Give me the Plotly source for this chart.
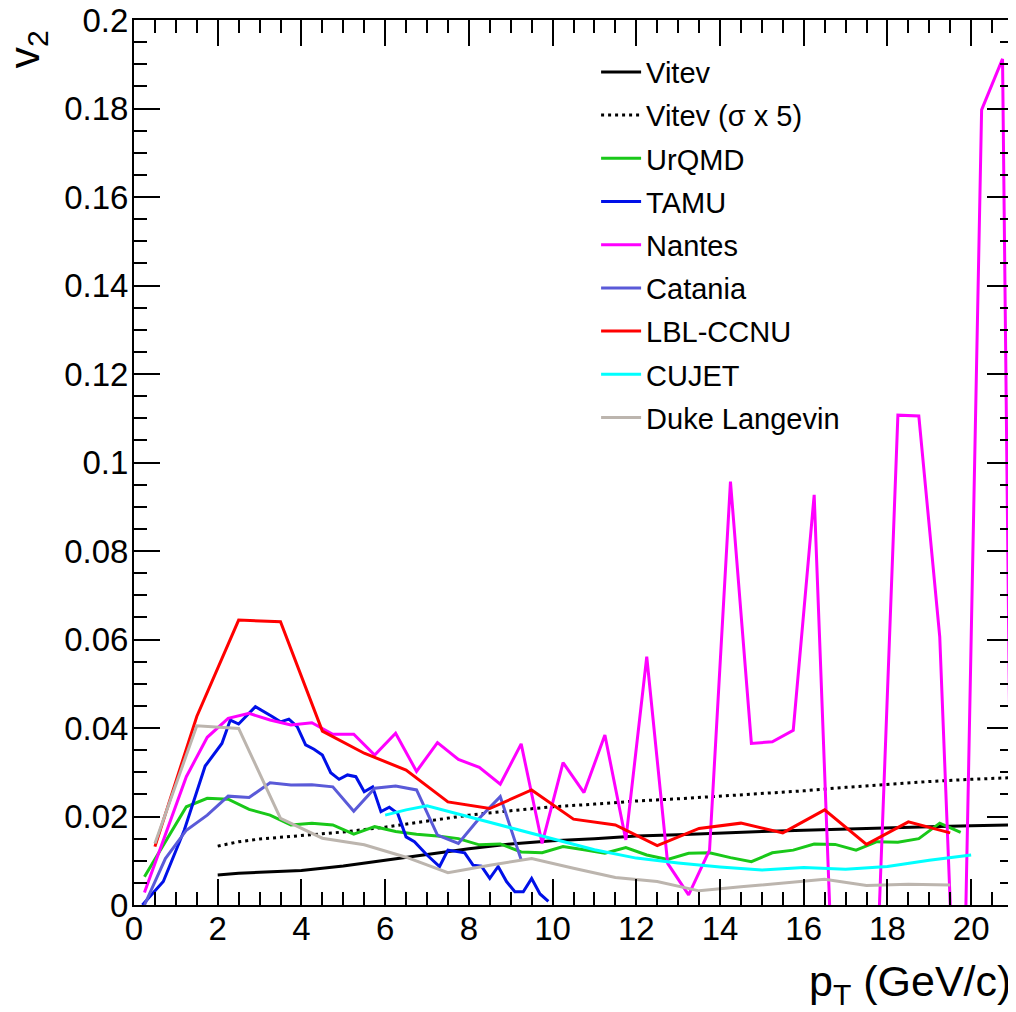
import plotly.graph_objects as go

# ---------------- data ----------------
vitev_x = [2, 2.5, 3, 4, 5, 6, 7, 8, 9, 10, 11, 12, 13, 14, 15, 16, 17, 18, 19, 20, 21]
vitev_y = [0.0068, 0.0072, 0.0074, 0.0078, 0.0088, 0.0101, 0.0115, 0.0127, 0.0138, 0.0145,
           0.0150, 0.0156, 0.0159, 0.0163, 0.0166, 0.0169, 0.0172, 0.0175, 0.0177, 0.0179, 0.0181]

vitev5_x = [2, 2.5, 3, 4, 5, 6, 7, 8, 9, 10, 11, 12, 13, 14, 15, 16, 17, 18, 19, 20, 21]
vitev5_y = [0.0133, 0.0143, 0.0149, 0.0157, 0.0165, 0.0176, 0.0190, 0.0203, 0.0213, 0.0222,
            0.0228, 0.0235, 0.0240, 0.0246, 0.0252, 0.0258, 0.0266, 0.0273, 0.0279, 0.0284, 0.0288]

urqmd_x = [0.25, 0.75, 1.25, 1.75, 2.25, 2.75, 3.25, 3.75, 4.25, 4.75, 5.25, 5.75, 6.25, 6.75,
           7.25, 7.75, 8.25, 8.75, 9.25, 9.75, 10.25, 10.75, 11.25, 11.75, 12.25, 12.75, 13.25,
           13.75, 14.25, 14.75, 15.25, 15.75, 16.25, 16.75, 17.25, 17.75, 18.25, 18.75, 19.25, 19.75]
urqmd_y = [0.0064, 0.0143, 0.0222, 0.0241, 0.0239, 0.0216, 0.0203, 0.0181, 0.0185, 0.0181,
           0.0160, 0.0177, 0.0166, 0.0160, 0.0156, 0.0150, 0.0136, 0.0138, 0.0120, 0.0118,
           0.0132, 0.0125, 0.0117, 0.0130, 0.0113, 0.0103, 0.0117, 0.0118, 0.0107, 0.0098,
           0.0118, 0.0124, 0.0138, 0.0137, 0.0124, 0.0143, 0.0142, 0.0150, 0.0185, 0.0164]

tamu_x = [0.2, 0.7, 1.2, 1.7, 2.1, 2.3, 2.5, 2.9, 3.3, 3.5, 3.7, 3.9, 4.1, 4.3, 4.5, 4.7, 4.9,
          5.1, 5.3, 5.5, 5.7, 5.9, 6.1, 6.3, 6.5, 6.7, 7.0, 7.3, 7.5, 7.9, 8.1, 8.3, 8.5, 8.7,
          8.9, 9.1, 9.3, 9.5, 9.7, 9.9]
tamu_y = [0.0000, 0.0053, 0.0169, 0.0314, 0.0365, 0.0418, 0.0409, 0.0448, 0.0426, 0.0414,
          0.0420, 0.0403, 0.0362, 0.0352, 0.0339, 0.0299, 0.0284, 0.0294, 0.0290, 0.0256,
          0.0267, 0.0211, 0.0221, 0.0207, 0.0154, 0.0143, 0.0113, 0.0087, 0.0124, 0.0118,
          0.0090, 0.0088, 0.0060, 0.0087, 0.0053, 0.0030, 0.0030, 0.0060, 0.0025, 0.0008]

nantes_x = [0.25, 0.75, 1.25, 1.75, 2.25, 2.75, 3.25, 3.75, 4.25, 4.75, 5.25, 5.75, 6.25, 6.75,
            7.25, 7.75, 8.25, 8.75, 9.25, 9.75, 10.25, 10.75, 11.25, 11.75, 12.25, 12.75, 13.25,
            13.75, 14.25, 14.75, 15.25, 15.75, 16.25, 16.75, 17.25, 17.75, 18.25, 18.75, 19.25,
            19.75, 20.25, 20.75, 21.25]
nantes_y = [0.0028, 0.0160, 0.0290, 0.0379, 0.0422, 0.0433, 0.0418, 0.0407, 0.0412, 0.0386,
            0.0386, 0.0339, 0.0388, 0.0302, 0.0367, 0.0329, 0.0311, 0.0273, 0.0364, 0.0139,
            0.0322, 0.0254, 0.0384, 0.0147, 0.0561, 0.0094, 0.0023, 0.0124, 0.0957, 0.0365,
            0.0369, 0.0395, 0.0927, -0.0330, -0.0600, -0.0150, 0.1107, 0.1105, 0.0606,
            -0.0600, 0.1797, 0.1912, -0.2500]

catania_x = [0.25, 0.75, 1.25, 1.75, 2.25, 2.75, 3.25, 3.75, 4.25, 4.75, 5.25, 5.75, 6.25,
             6.75, 7.25, 7.75, 8.25, 8.75, 9.25]
catania_y = [0.0000, 0.0105, 0.0169, 0.0203, 0.0246, 0.0243, 0.0276, 0.0271, 0.0272, 0.0267,
             0.0212, 0.0264, 0.0269, 0.0260, 0.0158, 0.0139, 0.0196, 0.0245, 0.0102]

lbl_x = [0.5, 1.5, 2.5, 3.5, 4.5, 5.5, 6.5, 7.5, 8.5, 9.5, 10.5, 11.5, 12.5, 13.5, 14.5, 15.5,
         16.5, 17.5, 18.5, 19.5]
lbl_y = [0.0132, 0.0426, 0.0644, 0.0640, 0.0393, 0.0343, 0.0305, 0.0233, 0.0218, 0.0260,
         0.0194, 0.0181, 0.0134, 0.0173, 0.0185, 0.0163, 0.0215, 0.0137, 0.0188, 0.0163]

cujet_x = [6, 6.5, 7, 8, 9, 10, 11, 12, 13, 14, 15, 16, 17, 18, 19, 20]
cujet_y = [0.0203, 0.0215, 0.0224, 0.0199, 0.0175, 0.0150, 0.0125, 0.0106, 0.0095, 0.0086,
           0.0079, 0.0085, 0.0081, 0.0087, 0.0101, 0.0113]

duke_x = [0.5, 1.5, 2.5, 3.5, 4.5, 5.5, 6.5, 7.5, 8.5, 9.5, 10.5, 11.5, 12.5, 13.5, 14.5, 15.5,
          16.5, 17.5, 18.5, 19.5]
duke_y = [0.0139, 0.0405, 0.0399, 0.0196, 0.0151, 0.0136, 0.0108, 0.0073, 0.0090, 0.0105,
          0.0083, 0.0062, 0.0053, 0.0032, 0.0041, 0.0049, 0.0058, 0.0044, 0.0047, 0.0045]

x_ticks = [0, 2, 4, 6, 8, 10, 12, 14, 16, 18, 20]
y_ticks = [0, 0.02, 0.04, 0.06, 0.08, 0.1, 0.12, 0.14, 0.16, 0.18, 0.2]

FONT = "Liberation Sans, Arial, Helvetica, sans-serif"

series = [
    ("Vitev", vitev_x, vitev_y, "#000000", "solid"),
    ("Vitev (σ x 5)", vitev5_x, vitev5_y, "#000000", "3px,4px"),
    ("UrQMD", urqmd_x, urqmd_y, "#19c819", "solid"),
    ("TAMU", tamu_x, tamu_y, "#0010e8", "solid"),
    ("Nantes", nantes_x, nantes_y, "#ff00ff", "solid"),
    ("Catania", catania_x, catania_y, "#5a5ad8", "solid"),
    ("LBL-CCNU", lbl_x, lbl_y, "#ff0000", "solid"),
    ("CUJET", cujet_x, cujet_y, "#00ffff", "solid"),
    ("Duke Langevin", duke_x, duke_y, "#bcb5ae", "solid"),
]

fig = go.Figure()
for i, (name, xs, ys, col, dash) in enumerate(series):
    fig.add_trace(go.Scatter(x=xs, y=ys, mode="lines", name=name, legendgroup=f"g{i}",
                             line=dict(color=col, width=3, dash=dash)))

axis_common = dict(
    showline=True, linecolor="black", linewidth=2, mirror="allticks",
    ticks="inside", ticklen=26, tickwidth=2, tickcolor="black",
    showgrid=False, zeroline=False, automargin=False, ticklabeloverflow="allow",
    tickfont=dict(family=FONT, size=33, color="black"),
)

fig.update_xaxes(range=[0, 21], tickvals=x_ticks, ticklabelstandoff=-7,
                 minor=dict(dtick=0.5, ticks="inside", ticklen=13, tickwidth=2, tickcolor="black"),
                 **axis_common)
fig.update_yaxes(range=[0, 0.2], tickvals=y_ticks, ticklabelstandoff=-3,
                 minor=dict(dtick=0.005, ticks="inside", ticklen=13, tickwidth=2, tickcolor="black"),
                 **axis_common)

# the page body adds an 8px margin, so the figure is sized/margined to compensate
fig.update_layout(
    width=1008, height=1004,
    margin=dict(l=125.5, r=3, t=12, b=107, autoexpand=False),
    paper_bgcolor="white", plot_bgcolor="white",
    font=dict(family=FONT, color="black"),
    showlegend=True,
    legend=dict(x=0.5257, y=0.970, xanchor="left", yanchor="top",
                bgcolor="rgba(0,0,0,0)", borderwidth=0, tracegroupgap=2.5,
                font=dict(family=FONT, size=29, color="black"),
                itemwidth=40),
    annotations=[
        dict(text="p<sub>T</sub> (GeV/c)", xref="paper", yref="paper",
             x=1.0, y=-0.1225, xanchor="right", yanchor="bottom", showarrow=False,
             font=dict(family=FONT, size=43, color="black")),
        dict(text="v<sub>2</sub>", xref="paper", yref="paper",
             x=-0.122, y=0.99, xanchor="center", yanchor="top", textangle=-90,
             showarrow=False, font=dict(family=FONT, size=43, color="black")),
    ],
)

fig.write_html("out.html")
